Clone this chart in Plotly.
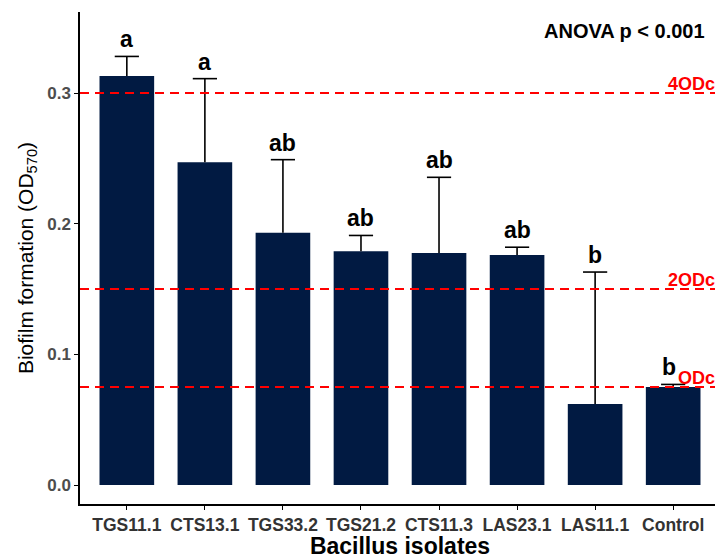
import plotly.graph_objects as go

isolates = ["TGS11.1", "CTS13.1", "TGS33.2", "TGS21.2", "CTS11.3", "LAS23.1", "LAS11.1", "Control"]
means = [0.313, 0.247, 0.193, 0.179, 0.1775, 0.176, 0.062, 0.075]
sds = [0.015, 0.064, 0.056, 0.012, 0.058, 0.006, 0.101, 0.002]
letters = ["a", "a", "ab", "ab", "ab", "ab", "b", "b"]
odc_levels = [0.075, 0.15, 0.3]
odc_labels = ["ODc", "2ODc", "4ODc"]

FONT = "Arial, Liberation Sans, sans-serif"
BAR = "#011A42"
CAP = 0.155  # half-width of error-bar caps in category units

xs = list(range(len(isolates)))

fig = go.Figure()
fig.add_trace(go.Bar(
    x=xs, y=means, width=0.7,
    marker=dict(color=BAR, line=dict(width=0)),
    showlegend=False, hoverinfo="skip",
))

# upper-only error bars (ggplot style): stem from mean to mean+sd, cap on top
ex, ey = [], []
for i, (m, s) in enumerate(zip(means, sds)):
    ex += [i, i, None, i - CAP, i + CAP, None]
    ey += [m, m + s, None, m + s, m + s, None]
fig.add_trace(go.Scatter(x=ex, y=ey, mode="lines", line=dict(color="black", width=1.6),
                         showlegend=False, hoverinfo="skip"))

shapes = []
for lv in odc_levels:
    shapes.append(dict(type="line", xref="paper", yref="y", x0=0, x1=1, y0=lv, y1=lv,
                       line=dict(color="#FF0000", width=2, dash="9px,6px"), layer="above"))

annotations = []
for i, (m, s, l) in enumerate(zip(means, sds, letters)):
    annotations.append(dict(x=i, y=m + s, text=f"<b>{l}</b>", showarrow=False,
                            yanchor="bottom", yshift=2, xshift=(-4 if i == len(xs) - 1 else 0),
                            font=dict(family=FONT, size=23, color="black")))
for lv, lab in zip(odc_levels, odc_labels):
    annotations.append(dict(x=1, xref="paper", y=lv, yref="y", text=f"<b>{lab}</b>", showarrow=False,
                            xanchor="right", yanchor="bottom", yshift=-3, xshift=-3,
                            font=dict(family=FONT, size=18, color="#FF0000")))
annotations.append(dict(x=0.98, xref="paper", y=0.962, yref="paper", text="<b>ANOVA p &lt; 0.001</b>",
                        showarrow=False, xanchor="right", yanchor="middle",
                        font=dict(family=FONT, size=20, color="black")))

fig.update_layout(
    width=715, height=551,
    margin=dict(l=72, r=3, t=4, b=55),
    plot_bgcolor="white", paper_bgcolor="white",
    shapes=shapes, annotations=annotations,
    xaxis=dict(range=[-0.6, 7.6], tickmode="array", tickvals=xs,
               ticktext=[f"<b>{c}</b>" for c in isolates],
               showline=True, linecolor="black", linewidth=1.5, ticks="outside", ticklen=4,
               tickcolor="black", tickfont=dict(family=FONT, size=17.5, color="#333333"),
               title=dict(text="<b>Bacillus isolates</b>", font=dict(family=FONT, size=23, color="black"), standoff=2),
               showgrid=False, zeroline=False, automargin=False),
    yaxis=dict(range=[-0.0145, 0.362], tickvals=[0, 0.1, 0.2, 0.3],
               ticktext=["<b>0.0</b>", "<b>0.1</b>", "<b>0.2</b>", "<b>0.3</b>"],
               showline=True, linecolor="black", linewidth=1.5, ticks="outside", ticklen=4,
               tickcolor="black", tickfont=dict(family=FONT, size=17, color="#4D4D4D"),
               title=dict(text="Biofilm formation (OD<sub>570</sub>)", font=dict(family=FONT, size=21, color="black"), standoff=8),
               showgrid=False, zeroline=False, automargin=False),
)

fig.write_html("out.html")
